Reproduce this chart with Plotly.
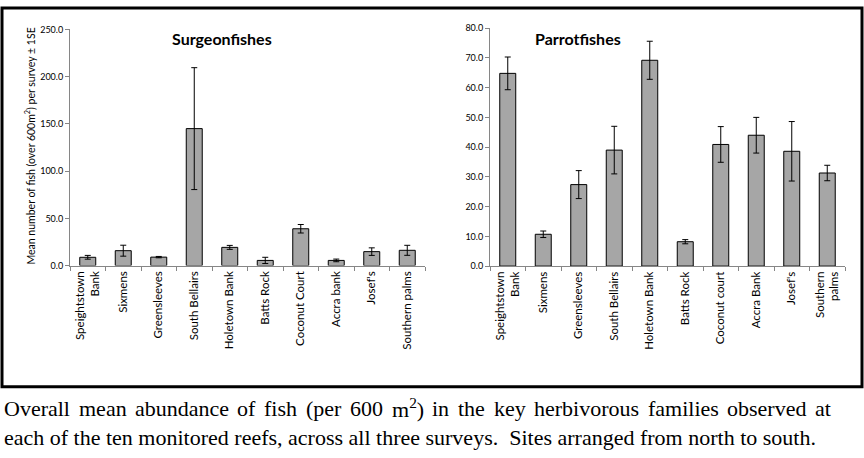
import plotly.graph_objects as go

# sites, north to south
sites_surgeon = ['Speightstown<br>Bank', 'Sixmens', 'Greensleeves', 'South Bellairs',
                 'Holetown Bank', 'Batts Rock', 'Coconut Court', 'Accra bank',
                 "Josef's", 'Southern palms']
sites_parrot = ['Speightstown<br>Bank', 'Sixmens', 'Greensleeves', 'South Bellairs',
                'Holetown Bank', 'Batts Rock', 'Coconut court', 'Accra Bank',
                "Josef's", 'Southern<br>palms']

surgeon_mean = [8.8, 15.8, 9.0, 145.0, 19.3, 5.5, 39.0, 5.5, 14.8, 16.2]
surgeon_se = [2.0, 5.8, 0.7, 64.5, 2.1, 3.3, 4.5, 1.4, 4.0, 5.3]

parrot_mean = [64.8, 10.7, 27.4, 39.0, 69.2, 8.2, 40.9, 44.0, 38.6, 31.3]
parrot_se = [5.5, 1.1, 4.7, 8.0, 6.4, 0.7, 6.0, 6.0, 10.0, 2.6]

caption_1 = ['Overall', 'mean', 'abundance', 'of', 'fish', '(per', '600', 'm<sup>2</sup>)',
             'in', 'the', 'key', 'herbivorous', 'families', 'observed', 'at']
caption_2 = ('each of the ten monitored reefs, across all three surveys.&nbsp; '
             'Sites arranged from north to south.')

W, H = 864, 458
BAR = '#A6A6A6'
AXIS = '#868686'
TICKFONT = dict(family='Lato', size=9, color='black')
CAPSIZE = 22

# rough Times advance widths (1/1000 em), used to justify the first caption line
TIMES = dict(zip('abcdefghijklmnopqrstuvwxyz', [444, 500, 444, 500, 444, 333, 500, 500, 278, 278,
                                                 500, 278, 778, 500, 500, 500, 500, 333, 389, 278,
                                                 500, 500, 722, 500, 500, 444]))
TIMES.update({'O': 722, 'S': 556, '(': 333, ')': 333, ',': 250, '.': 250, ' ': 250})
TIMES.update({d: 500 for d in '0123456789'})


def word_width(w):
    w = w.replace('<sup>2</sup>', '')
    extra = 350 if w.startswith('m') and len(w) == 2 else 0
    return (sum(TIMES.get(c, 500) for c in w) + extra) / 1000 * CAPSIZE


fig = go.Figure()

fig.add_trace(go.Bar(
    x=sites_surgeon, y=surgeon_mean, xaxis='x', yaxis='y',
    marker=dict(color=BAR, line=dict(color='black', width=1)),
    error_y=dict(type='data', array=surgeon_se, color='black', thickness=1, width=3),
    showlegend=False))

fig.add_trace(go.Bar(
    x=sites_parrot, y=parrot_mean, xaxis='x2', yaxis='y2',
    marker=dict(color=BAR, line=dict(color='black', width=1)),
    error_y=dict(type='data', array=parrot_se, color='black', thickness=1, width=3),
    showlegend=False))

xcommon = dict(showline=True, linecolor=AXIS, linewidth=1, ticks='outside',
               tickson='boundaries', ticklen=4, tickcolor=AXIS, tickangle=-90,
               tickfont=dict(family='Lato', size=11.5, color='black'),
               showgrid=False, zeroline=False, fixedrange=True)
ycommon = dict(showline=True, linecolor=AXIS, linewidth=1, ticks='outside',
               ticklen=4, tickcolor=AXIS, tickformat='.1f', tickfont=TICKFONT,
               showgrid=False, zeroline=False, fixedrange=True)

fig.update_layout(
    width=W, height=H,
    margin=dict(l=0, r=0, t=0, b=0),
    paper_bgcolor='white', plot_bgcolor='white',
    bargap=0.55,
    xaxis=dict(domain=[70 / W, 425 / W], anchor='y', **xcommon),
    yaxis=dict(domain=[1 - 266 / H, 1 - 24 / H], anchor='x', range=[0, 250], dtick=50, **ycommon),
    xaxis2=dict(domain=[490 / W, 845 / W], anchor='y2', **xcommon),
    yaxis2=dict(domain=[1 - 266.5 / H, 1 - 22.7 / H], anchor='x2', range=[0, 80], dtick=10, **ycommon),
)

# panel titles
fig.add_annotation(text='<b>Surgeonfishes</b>', x=222 / W, y=1 - 33 / H, xref='paper', yref='paper',
                   xanchor='center', yanchor='middle', showarrow=False,
                   font=dict(family='Lato', size=16, color='black'))
fig.add_annotation(text='<b>Parrotfishes</b>', x=578 / W, y=1 - 33 / H, xref='paper', yref='paper',
                   xanchor='center', yanchor='middle', showarrow=False,
                   font=dict(family='Lato', size=16, color='black'))

# y axis title of left panel
fig.add_annotation(text='Mean number of fish (over 600m<sup>2</sup>) per survey ± 1SE',
                   x=30 / W, y=1 - 144 / H, xref='paper', yref='paper', textangle=-90,
                   xanchor='center', yanchor='middle', showarrow=False,
                   font=dict(family='Lato', size=10.5, color='black'))

# frame round the figure
fig.add_shape(type='rect', xref='paper', yref='paper',
              x0=2 / W, x1=862 / W, y0=1 - 390 / H, y1=1 - 2 / H,
              line=dict(color='black', width=3))

# caption: first line justified between the margins, second line as typed
left, right = 3, 830
widths = [word_width(w) for w in caption_1]
gap = (right - left - sum(widths)) / (len(caption_1) - 1)
xpos = left
for word, ww in zip(caption_1, widths):
    fig.add_annotation(text=word, x=xpos / W, y=1 - 412 / H, xref='paper', yref='paper',
                       xanchor='left', yanchor='middle', showarrow=False, borderpad=0,
                       font=dict(family='Liberation Serif', size=CAPSIZE, color='black'))
    xpos += ww + gap

fig.add_annotation(text=caption_2, x=left / W, y=1 - 442 / H, xref='paper', yref='paper',
                   xanchor='left', yanchor='middle', showarrow=False, borderpad=0,
                   font=dict(family='Liberation Serif', size=CAPSIZE, color='black'))

fig.write_html('out.html', config={'displayModeBar': False},
               post_script="document.body.style.margin='0';")
